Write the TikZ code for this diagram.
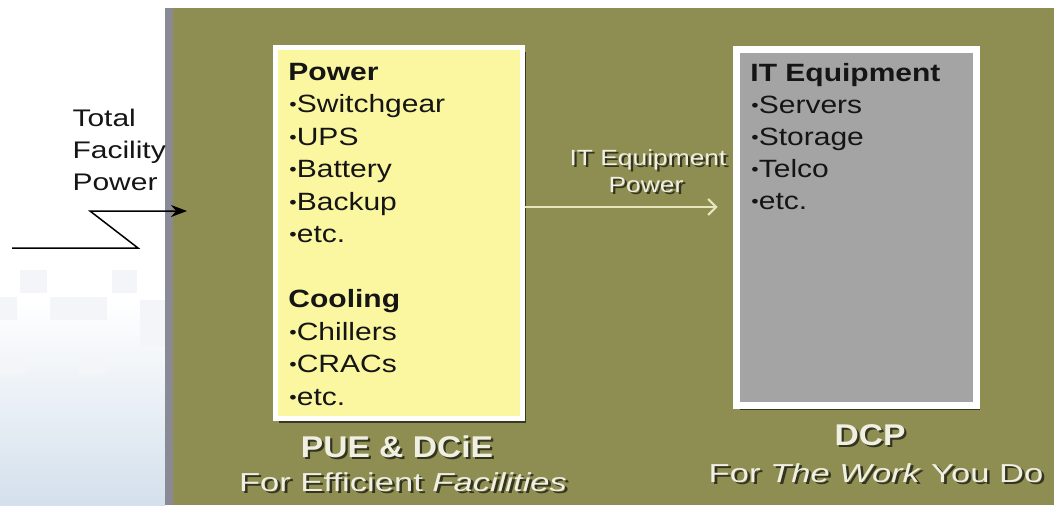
\documentclass[tikz,border=0pt]{standalone}
\usepackage{fontspec}
\setmainfont{Liberation Sans}
\usetikzlibrary{arrows.meta,positioning,shadows}
\definecolor{olivebg}{HTML}{8F8E52}
\definecolor{panelrim}{HTML}{8A8A96}
\definecolor{pwrfill}{HTML}{FBF7A0}
\definecolor{itfill}{HTML}{A4A4A4}
\definecolor{inktxt}{HTML}{151515}
\definecolor{embtext}{HTML}{EFEFE2}
\definecolor{embshade}{HTML}{34341F}
\definecolor{linkc}{HTML}{E6E6BC}
\definecolor{skyfade}{HTML}{D4E0EC}
\definecolor{ghostsq}{HTML}{F3F5F8}
\newcommand\emboss[1]{\makebox[0pt][l]{\hspace{1pt}\raisebox{-1pt}{\textcolor{embshade}{#1}}}\textcolor{embtext}{#1}}
\newcommand\dotitem{\raisebox{0.12ex}{\scalebox{0.7}{•}}}
\tikzset{
  boxshadow/.style  = {drop shadow={shadow xshift=2pt, shadow yshift=-2.5pt,
                       fill=black!80!olivebg, opacity=0.75}},
  pwrframe/.style   = {fill=pwrfill, draw=white, line width=2.5pt,
                       anchor=north west, inner sep=0pt, boxshadow},
  itframe/.style    = {fill=itfill, draw=white, line width=3.5pt,
                       anchor=north west, inner sep=0pt, boxshadow},
  listtxt/.style    = {anchor=base west, inner sep=0pt, xscale=1.2, text=inktxt,
                       font=\fontsize{12.5}{15}\selectfont},
  listhead/.style   = {listtxt, font=\fontsize{12.5}{15}\selectfont\bfseries},
  feedtxt/.style    = {anchor=base west, inner sep=0pt, xscale=1.25, text=inktxt,
                       font=\fontsize{12}{14}\selectfont},
  linktxt/.style    = {anchor=base, inner sep=0pt, xscale=1.2,
                       font=\fontsize{11}{13}\selectfont},
  metrichead/.style = {anchor=base, inner sep=0pt, xscale=1.12,
                       font=\fontsize{15}{18}\selectfont\bfseries},
  metricsub/.style  = {anchor=base, inner sep=0pt, xscale=1.33,
                       font=\fontsize{13}{16}\selectfont},
  feedline/.style   = {draw=black, line width=0.75pt},
  linkarr/.style    = {draw=linkc, line width=1pt,
                       -{Straight Barb[length=4pt,width=8pt]}},
}
\begin{document}
\begin{tikzpicture}[x=0.5pt,y=-0.5pt]
  \useasboundingbox (0,0) rectangle (1054,505);
  % backdrop
  \shade[top color=white, bottom color=skyfade] (0,300) rectangle (165,505);
  \fill[ghostsq] (20,270) rectangle (47,293);
  \fill[ghostsq] (112,270) rectangle (137,293);
  \fill[ghostsq] (50,297) rectangle (107,320);
  \fill[ghostsq] (0,297) rectangle (17,320);
  \fill[ghostsq] (140,300) rectangle (165,347);
  \fill[ghostsq] (0,355) rectangle (25,375);
  \fill[ghostsq] (78,355) rectangle (105,375);
  \fill[panelrim] (165,8) rectangle (173,505);
  \fill[olivebg] (173,8) rectangle (1054,505);

  % the two boxes
  \node[pwrframe, minimum width=123.5pt, minimum height=185.5pt]
    (pwrbox) at (272.5,44.5) {};
  \node[itframe, minimum width=120pt, minimum height=178pt]
    (itbox) at (732.5,45.5) {};

  % power and cooling list
  \node[listhead] (pwrhead) at (288,80) {Power};
  \foreach \txt [count=\i] in {Switchgear,UPS,Battery,Backup,etc.}
    \node[listtxt] (pwritem\i) at (289,{80+32.5*\i}) {\dotitem\txt};
  \node[listhead] (coolhead) at (288,307.5) {Cooling};
  \foreach \txt [count=\i] in {Chillers,CRACs,etc.}
    \node[listtxt] (coolitem\i) at (289,{307.5+32.5*\i}) {\dotitem\txt};

  % it list
  \node[listhead] (ithead) at (750,81) {IT Equipment};
  \foreach \txt [count=\i] in {Servers,Storage,Telco,etc.}
    \node[listtxt] (ititem\i) at (751,{81+32*\i}) {\dotitem\txt};

  % incoming feed
  \foreach \txt [count=\i] in {Total,Facility,Power}
    \node[feedtxt] (feedlbl\i) at (72,{94+32*\i}) {\txt};
  \coordinate (feedtail) at (12,248);
  \coordinate (feedknee) at (138,248);
  \coordinate (feedbend) at (90,211);
  \coordinate (feedin)   at (187,211);
  \draw[feedline, -{Stealth[length=8pt,width=6pt]}]
    (feedtail) -- (feedknee) -- (feedbend) -- (feedin);

  % it equipment power link
  \coordinate (linklevel) at (0,207);
  \draw[linkarr, shorten >=7.5pt] (pwrbox.east |- linklevel) -- (itbox.west |- linklevel);
  \node[linktxt] (linklbl1) at (648,165) {\emboss{IT Equipment}};
  \node[linktxt] (linklbl2) at (646,192) {\emboss{Power}};

  % metric captions
  \node[metrichead] (puehead) at (397,457) {\emboss{PUE \& DCiE}};
  \node[metricsub]  (puesub)  at (403,491) {\emboss{For Efficient \textit{Facilities}}};
  \node[metrichead] (dcphead) at (870,445) {\emboss{DCP}};
  \node[metricsub]  (dcpsub)  at (876,482) {\emboss{For \textit{The Work} You Do}};
\end{tikzpicture}
\end{document}
